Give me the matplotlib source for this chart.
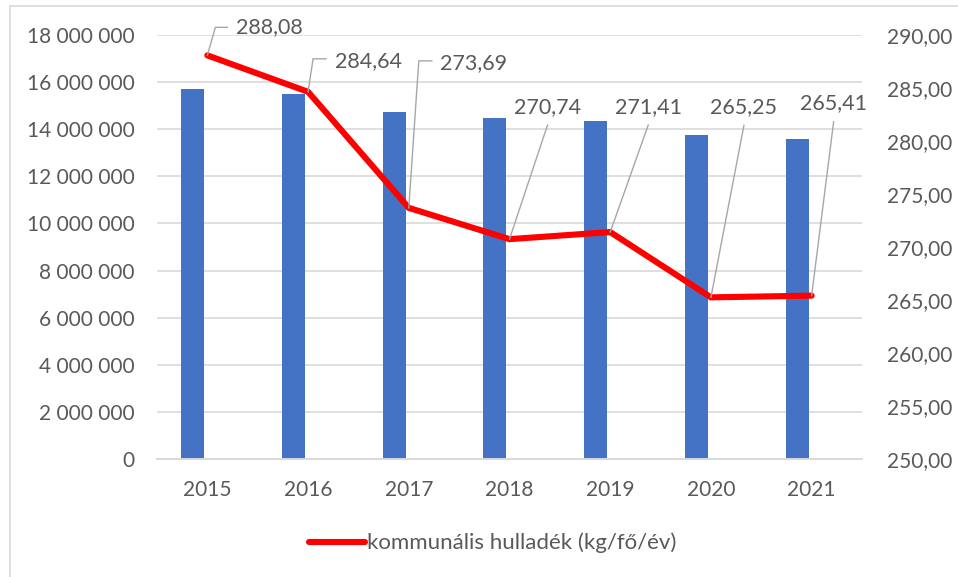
import matplotlib
matplotlib.use("Agg")
import matplotlib.pyplot as plt
from matplotlib.lines import Line2D
from matplotlib.ticker import FuncFormatter
import numpy as np

years = ["2015", "2016", "2017", "2018", "2019", "2020", "2021"]
tons = [15710000, 15490000, 14730000, 14470000, 14350000, 13750000, 13580000]
kg_per_head = [288.08, 284.64, 273.69, 270.74, 271.41, 265.25, 265.41]
line_label = "kommunális hulladék (kg/fő/év)"

BLUE = "#4472C4"
ORANGE = "#F4B183"
RED = "#FF0000"
GRID = "#D9D9D9"
TEXT = "#595959"
LEADER = "#A6A6A6"

plt.rcParams["font.family"] = ["Lato", "DejaVu Sans"]

# label leaders in pixels from the point: (elbow dx, dy), horizontal tail, text anchor
callouts = [
	((8, 28), 12, (29, 28), "left"),
	((5, 33), 13, (27, 31), "left"),
	((10, 147), 13, (31, 145), "left"),
	((38, 114), 0, (38, 132), "center"),
	((38, 107), 0, (38, 125), "center"),
	((33, 172), 0, (33, 190), "center"),
	((22, 174), 0, (22, 193), "center"),
]


def spaced(v, _pos):
	return f"{int(v):,}".replace(",", " ")


def decimal_comma(v, _pos):
	return f"{v:.2f}".replace(".", ",")


fig = plt.figure(figsize=(9.58, 5.77), dpi=100)
ax = fig.add_axes([157 / 958, 1 - 459 / 577, 705 / 958, 424 / 577])
ax2 = ax.twinx()

x = np.arange(len(years))
ax.bar(x - 0.145, tons, width=0.228, color=BLUE, zorder=2)
ax.bar(x + 0.145, kg_per_head, width=0.228, color=ORANGE,
	edgecolor=ORANGE, linewidth=0.8, zorder=2)

ax.set_xlim(-0.5, len(years) - 0.5)
ax.set_ylim(0, 18000000)
ax.set_yticks(np.arange(0, 18000001, 2000000))
ax.yaxis.set_major_formatter(FuncFormatter(spaced))
ax.set_xticks(x)
ax.set_xticklabels(years)
ax.grid(axis="y", color=GRID, linewidth=1.2, zorder=0)
ax.set_axisbelow(True)

ax2.plot(x, kg_per_head, color=RED, linewidth=4.4, solid_capstyle="round",
	solid_joinstyle="miter", zorder=3, label=line_label)
ax2.set_ylim(250, 290)
ax2.set_yticks(np.arange(250, 291, 5))
ax2.yaxis.set_major_formatter(FuncFormatter(decimal_comma))

for a in (ax, ax2):
	for side in ("top", "left", "right"):
		a.spines[side].set_visible(False)
	a.spines["bottom"].set_color(GRID)
	a.spines["bottom"].set_linewidth(1.2)
	a.tick_params(length=0, labelsize=15, labelcolor=TEXT)
ax.tick_params(axis="y", pad=16)
ax.tick_params(axis="x", pad=15)
ax2.tick_params(axis="y", pad=18)

# value labels with leader lines, drawn in pixel space
fig.canvas.draw()
for i, v in enumerate(kg_per_head):
	(ex, ey), tail, (tx, ty), ha = callouts[i]
	px, py = ax2.transData.transform((i, v))
	xs = [px, px + ex]
	ys = [py, py + ey]
	if tail:
		xs.append(px + ex + tail)
		ys.append(py + ey)
	fig.add_artist(Line2D(xs, ys, color=LEADER, linewidth=1.0,
		transform=None, zorder=4))
	fig.text((px + tx) / 958, (py + ty) / 577, f"{v:.2f}".replace(".", ","),
		ha=ha, va="center", fontsize=15.5, color=TEXT, zorder=5)

leg = fig.legend(loc="center", bbox_to_anchor=(493 / 958, 1 - 543 / 577),
	frameon=False, fontsize=16, handlelength=2.5, handletextpad=0.1)
for t in leg.get_texts():
	t.set_color(TEXT)

# chart area border (left and top edges)
fig.add_artist(Line2D([10 / 958, 10 / 958], [0, 1 - 6 / 577], color=GRID, linewidth=1.2))
fig.add_artist(Line2D([10 / 958, 1], [1 - 6 / 577, 1 - 6 / 577], color=GRID, linewidth=1.2))

fig.savefig("out.png", dpi=100)
